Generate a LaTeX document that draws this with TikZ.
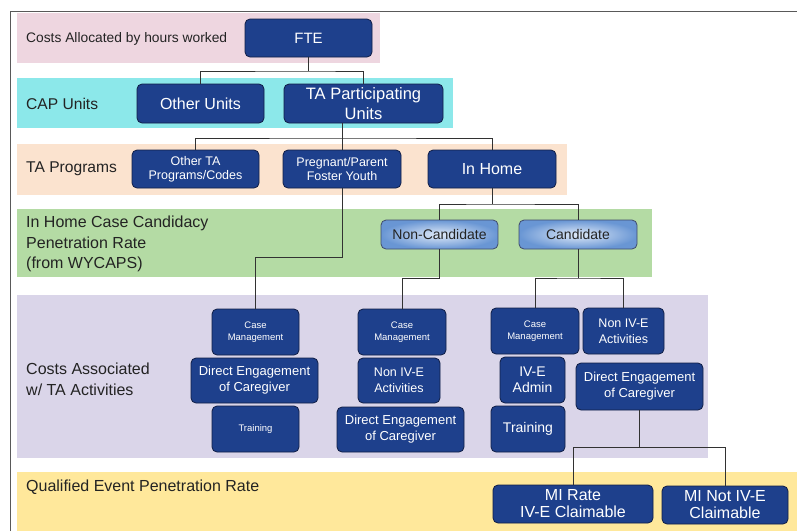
\documentclass[tikz,border=0pt]{standalone}
\usepackage{fontspec}
\setmainfont{Liberation Sans}
\definecolor{navy}{RGB}{30,64,140}
\definecolor{navyb}{RGB}{16,30,70}
\definecolor{bandpink}{RGB}{238,214,224}
\definecolor{bandcyan}{RGB}{140,232,234}
\definecolor{bandpeach}{RGB}{251,227,207}
\definecolor{bandgreen}{RGB}{180,219,164}
\definecolor{bandlav}{RGB}{218,213,233}
\definecolor{bandyel}{RGB}{255,232,155}
\definecolor{lblue}{RGB}{105,150,212}
\definecolor{pblue}{RGB}{224,234,248}
\definecolor{txt}{RGB}{35,35,35}
\definecolor{wire}{RGB}{50,50,50}
\newcommand{\fsz}[2]{\fontsize{#1}{#2}\selectfont}
\tikzset{
  box/.style={draw=navyb, fill=navy, rounded corners=5pt, text=white, align=center, inner sep=0pt, line width=0.8pt},
  lbox/.style={draw=navyb!80, rounded corners=5pt, text=txt, align=center, inner sep=0pt, line width=0.8pt, inner color=pblue, outer color=lblue},
  lbl/.style={anchor=west, align=left, text=txt, inner sep=0pt},
  wire/.style={draw=wire, line width=0.8pt}
}
\begin{document}
\begin{tikzpicture}[x=1pt,y=-1pt]
\useasboundingbox (0,0) rectangle (797,531);
\fill[white] (0,0) rectangle (797,531);
% bands
\fill[bandpink] (17,13) rectangle (380,63);
\fill[bandcyan] (17,78) rectangle (453,128);
\fill[bandpeach] (17,144) rectangle (567,195);
\fill[bandgreen] (17,209) rectangle (652,277);
\fill[bandlav] (17,295) rectangle (708,458);
\fill[bandyel] (17,472) rectangle (797,531);
% frame
\draw[draw=gray!70!black, line width=0.9pt] (10,531) -- (10,11) -- (797,11);
% row labels
\node[lbl, font=\fsz{13.8}{16}] (l1) at (26,39) {Costs Allocated by hours worked};
\node[lbl, font=\fsz{15.6}{18}] (l2) at (26,104) {CAP Units};
\node[lbl, font=\fsz{15.6}{18}] (l3) at (26,169) {TA Programs};
\node[lbl, font=\fsz{16}{20.5}] (l4) at (26,244) {In Home Case Candidacy\\Penetration Rate\\(from WYCAPS)};
\node[lbl, font=\fsz{16}{21}] (l5) at (26,379) {Costs Associated\\w/ TA Activities};
\node[lbl, font=\fsz{16}{19}] (l6) at (26,487) {Qualified Event Penetration Rate};
% nodes
\node[box, minimum width=127, minimum height=38, font=\fsz{15}{18}] (fte) at (308.5,38) {FTE};
\node[box, minimum width=127, minimum height=39, font=\fsz{16}{19}] (other) at (200.5,103.5) {Other Units};
\node[box, minimum width=159, minimum height=39, font=\fsz{16.5}{20}] (tapart) at (363.5,103.5) {TA Participating\\Units};
\node[box, minimum width=127, minimum height=38, font=\fsz{12.5}{14}] (otherta) at (195.5,169) {Other TA\\Programs/Codes};
\node[box, minimum width=118, minimum height=38, font=\fsz{12.5}{14}] (preg) at (342,169) {Pregnant/Parent\\Foster Youth};
\node[box, minimum width=128, minimum height=38, font=\fsz{16}{19}] (inhome) at (492,169) {In Home};
\node[lbox, minimum width=117, minimum height=29, font=\fsz{14}{16}] (noncand) at (439.5,234.5) {Non-Candidate};
\node[lbox, minimum width=118, minimum height=29, font=\fsz{14}{16}] (cand) at (578,234.5) {Candidate};
\node[box, minimum width=87, minimum height=46, font=\fsz{9.5}{12.5}] (cma) at (255.5,332) {Case\\Management};
\node[box, minimum width=127, minimum height=45, font=\fsz{13}{16}] (dea) at (254.5,380.5) {Direct Engagement\\of Caregiver};
\node[box, minimum width=87, minimum height=46, font=\fsz{9.5}{12}] (tra) at (255.5,429) {Training};
\node[box, minimum width=88, minimum height=46, font=\fsz{9.5}{12.5}] (cmb) at (402,332) {Case\\Management};
\node[box, minimum width=82, minimum height=45, font=\fsz{12.5}{16}] (nib) at (399,380.5) {Non IV-E\\Activities};
\node[box, minimum width=127, minimum height=45, font=\fsz{13}{16}] (deb) at (400.5,429.5) {Direct Engagement\\of Caregiver};
\node[box, minimum width=88, minimum height=46, font=\fsz{9.5}{12.5}] (cmc) at (535,331) {Case\\Management};
\node[box, minimum width=65, minimum height=46, font=\fsz{14}{16}] (ivc) at (532.5,380) {IV-E\\Admin};
\node[box, minimum width=74, minimum height=46, font=\fsz{14}{16}] (trc) at (528,429) {Training};
\node[box, minimum width=81, minimum height=46, font=\fsz{12.5}{16}] (nid) at (623.5,331) {Non IV-E\\Activities};
\node[box, minimum width=127, minimum height=47, font=\fsz{13}{16}] (ded) at (639.5,386.5) {Direct Engagement\\of Caregiver};
\node[box, minimum width=160, minimum height=38, font=\fsz{16}{17}] (mia) at (573,504) {MI Rate\\IV-E Claimable};
\node[box, minimum width=126, minimum height=38, font=\fsz{16}{17}] (mib) at (725,505) {MI Not IV-E\\Claimable};
% junctions
\coordinate (j1) at (308.5,71);
\coordinate (j2) at (342,138);
\coordinate (j3) at (492,204);
\coordinate (j4) at (255.5,257);
\coordinate (j5) at (402,278);
\coordinate (j6) at (578,278);
\coordinate (j7) at (639.5,447);
% connectors
\draw[wire] (fte.south) -- (j1);
\draw[wire] (other.north) |- (j1) -| (tapart.north);
\draw[wire] (tapart.south -| j2) -- (j2);
\draw[wire] (otherta.north) |- (j2) -| (inhome.north);
\draw[wire] (j2) -- (preg.north);
\draw[wire] (inhome.south) -- (j3);
\draw[wire] (noncand.north) |- (j3) -| (cand.north);
\draw[wire] (preg.south) |- (j4) -- (cma.north);
\draw[wire] (noncand.south) |- (j5) -- (cmb.north);
\draw[wire] (cand.south) -- (j6);
\draw[wire] (cmc.north) |- (j6) -| (nid.north);
\draw[wire] (ded.south) -- (j7);
\draw[wire] (mia.north) |- (j7) -| (mib.north);
\end{tikzpicture}
\end{document}
